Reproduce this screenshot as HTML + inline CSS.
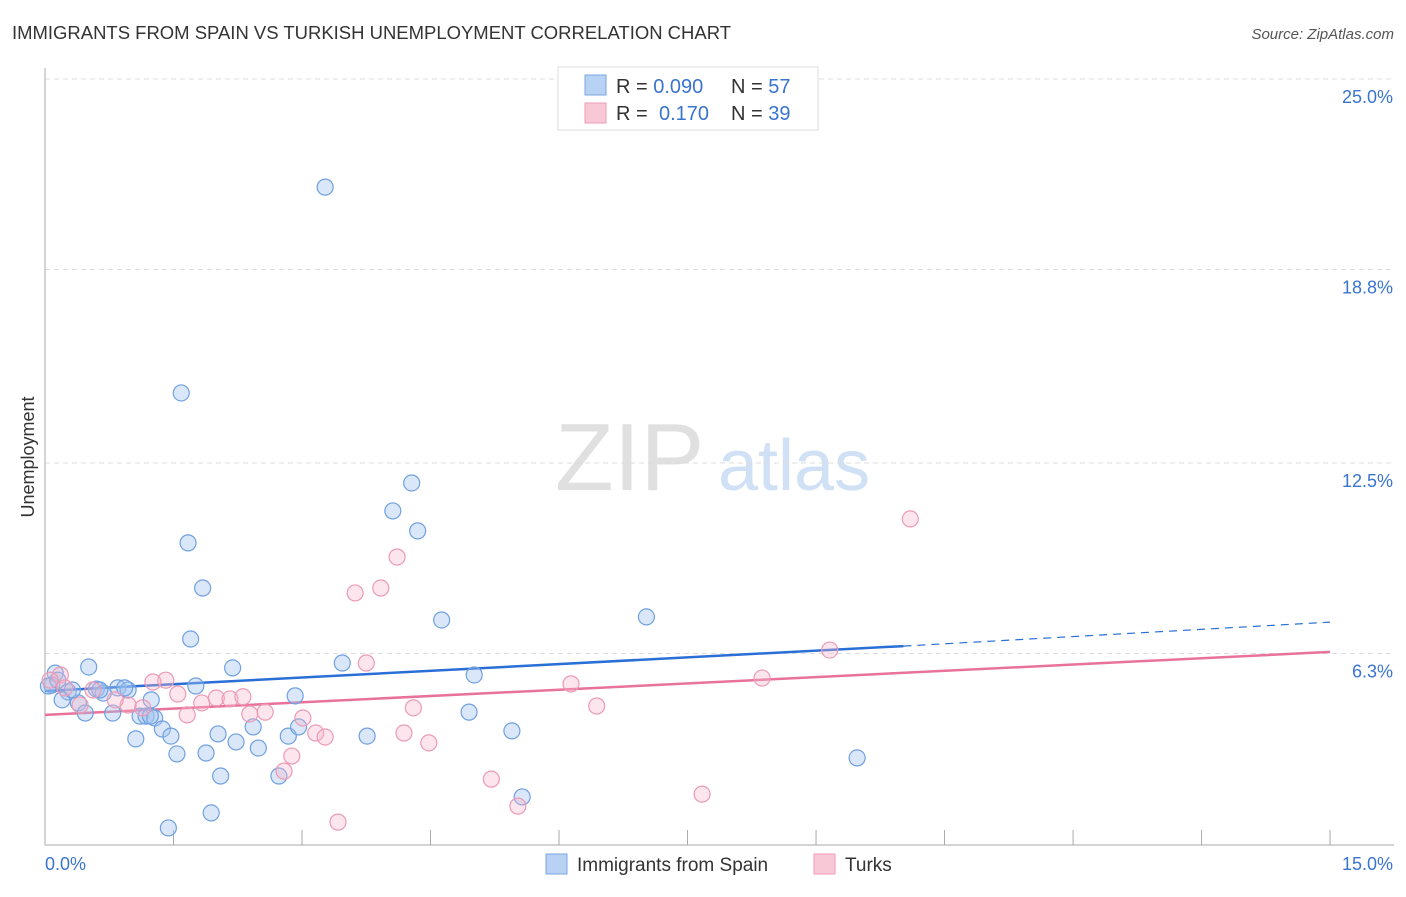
<!DOCTYPE html>
<html><head><meta charset="utf-8"><style>
body{margin:0;background:#fff;font-family:"Liberation Sans",sans-serif;}
svg text{font-family:"Liberation Sans",sans-serif;}
</style></head><body>
<svg id="chart" width="1406" height="892">
<text x="12" y="39" font-size="18" fill="#333" textLength="719" lengthAdjust="spacingAndGlyphs">IMMIGRANTS FROM SPAIN VS TURKISH UNEMPLOYMENT CORRELATION CHART</text>
<text x="1394" y="39" font-size="15" fill="#555" font-style="italic" text-anchor="end">Source: ZipAtlas.com</text>
<text x="34" y="457" font-size="18" fill="#333" text-anchor="middle" transform="rotate(-90 34 457)">Unemployment</text>
<text x="555" y="490" font-size="96" fill="#e0e0e0" font-family="Liberation Serif">ZIP</text>
<text x="718" y="490" font-size="72" fill="#d0e0f5">atlas</text>
<g id="grid"></g><g id="axes"></g><g id="lines"></g><g id="pts"></g>
<g>
<rect x="558" y="67" width="260" height="63" fill="#fff" stroke="#ddd"/>
<rect x="585" y="75" width="21" height="20" fill="#b8d2f4" stroke="#7aa7e2"/>
<rect x="585" y="103" width="21" height="20" fill="#f8c8d7" stroke="#ee9cb7"/>
<text x="616" y="93" font-size="20" fill="#333">R = <tspan fill="#3a74d0">0.090</tspan>  <tspan x="731">N = </tspan><tspan fill="#3a74d0">57</tspan></text>
<text x="616" y="120" font-size="20" fill="#333">R = <tspan x="659" fill="#3a74d0">0.170</tspan><tspan x="731">N = </tspan><tspan fill="#3a74d0">39</tspan></text>
</g>
<g>
<rect x="546" y="854" width="21" height="20" fill="#b8d2f4" stroke="#7aa7e2"/>
<text x="577" y="871" font-size="19" fill="#333">Immigrants from Spain</text>
<rect x="814" y="854" width="21" height="20" fill="#f8c8d7" stroke="#ee9cb7"/>
<text x="845" y="871" font-size="19" fill="#333">Turks</text>
</g>
</svg>
<script>
const yTicks=[25.0,18.8,12.5,6.3];
const yTickLabels=["25.0%","18.8%","12.5%","6.3%"];
const xTickLabels=["0.0%","15.0%"];
const spainX=[3.27,1.59,4.28,4.06,4.35,1.67,1.84,4.63,7.02,1.70,0.51,2.19,3.47,5.01,0.12,0.08,0.27,0.20,0.39,0.47,0.60,0.68,0.85,0.97,0.79,1.24,1.11,1.18,1.28,1.06,1.37,1.47,1.54,1.76,1.88,2.02,2.05,2.23,2.43,2.49,2.73,2.84,2.92,2.96,3.76,4.95,5.45,5.57,9.48,1.44,1.94,0.04,0.32,0.93,0.64,0.15,1.23];
const spainY=[21.48,14.78,11.85,10.94,10.29,9.90,8.43,7.39,7.49,6.77,5.86,5.83,5.99,5.60,5.66,5.27,5.05,4.79,4.69,4.36,5.14,5.01,5.18,5.11,4.36,4.79,4.26,4.26,4.20,3.52,3.84,3.61,3.03,5.24,3.06,3.68,2.31,3.42,3.91,3.22,2.31,3.61,4.92,3.91,3.61,4.39,3.78,1.63,2.90,0.62,1.11,5.24,5.11,5.18,5.11,5.43,4.26];
const turksX=[10.10,4.11,3.92,3.62,3.75,9.16,8.37,6.14,6.44,1.41,1.26,1.55,1.83,2.00,2.16,2.31,2.57,2.39,1.66,0.97,1.14,4.30,3.01,3.16,3.27,4.19,4.48,2.88,2.79,5.21,5.52,7.67,3.42,0.18,0.23,0.41,0.82,0.56,0.06];
const turksY=[10.68,9.44,8.43,8.27,5.99,6.41,5.50,5.31,4.59,5.43,5.37,4.98,4.69,4.85,4.82,4.89,4.39,4.33,4.30,4.62,4.53,4.53,4.20,3.71,3.58,3.71,3.39,2.96,2.47,2.21,1.33,1.72,0.81,5.60,5.18,4.62,4.79,5.11,5.43];
const spainTrend=[5.08,6.54,7.32];
const spainTrendX=[0,10.02,15];
const turksTrend=[4.30,6.35];
const NS="http://www.w3.org/2000/svg";
const X=v=>45+v*85.67, Y=v=>79+(25-v)*30.72;
function mk(tag,attrs,parent){const e=document.createElementNS(NS,tag);for(const k in attrs)e.setAttribute(k,attrs[k]);document.getElementById(parent).appendChild(e);return e;}
yTicks.forEach((t,i)=>{
 const g=mk('line',{x1:45,x2:1394,y1:Y(t),y2:Y(t),stroke:'#ddd','stroke-dasharray':'5,4'},'grid');
 
 
 const l=mk('text',{x:1393,y:Y(t)+24,'font-size':18,fill:'#3a74d0','text-anchor':'end'},'axes');
 l.textContent=yTickLabels[i];
 
 
});
mk('line',{x1:45,x2:45,y1:68,y2:845,stroke:'#aaa'},'axes');
mk('line',{x1:45,x2:1394,y1:845,y2:845,stroke:'#aaa'},'axes');
for(let i=1;i<=10;i++){const tk=mk('line',{x1:X(i*1.5),x2:X(i*1.5),y1:830,y2:845,stroke:'#aaa'},'axes');
 
 }
[[0,'start',45],[1,'end',1393]].forEach(([i,a,x])=>{const t=mk('text',{x:x,y:870,'font-size':18,fill:'#3a74d0','text-anchor':a},'axes');t.textContent=xTickLabels[i];
 
 });
const sl=mk('line',{x1:X(spainTrendX[0]),y1:Y(spainTrend[0]),x2:X(spainTrendX[1]),y2:Y(spainTrend[1]),stroke:'#2a6fd6','stroke-width':2.5},'lines');


const sd=mk('line',{x1:X(spainTrendX[1]),y1:Y(spainTrend[1]),x2:X(spainTrendX[2]),y2:Y(spainTrend[2]),stroke:'#2a6fd6','stroke-width':1.2,'stroke-dasharray':'8,6'},'lines');


const tl=mk('line',{x1:X(0),y1:Y(turksTrend[0]),x2:X(15),y2:Y(turksTrend[1]),stroke:'#e8729a','stroke-width':2.5},'lines');


spainX.forEach((v,i)=>{const c=mk('circle',{cx:X(v),cy:Y(spainY[i]),r:8,fill:'rgba(160,196,240,0.4)',stroke:'#6fa0e0','stroke-width':1.2},'pts');
 
 });
turksX.forEach((v,i)=>{const c=mk('circle',{cx:X(v),cy:Y(turksY[i]),r:8,fill:'rgba(245,180,200,0.35)',stroke:'#ec9ab5','stroke-width':1.2},'pts');
 
 });
</script>
</body></html>
